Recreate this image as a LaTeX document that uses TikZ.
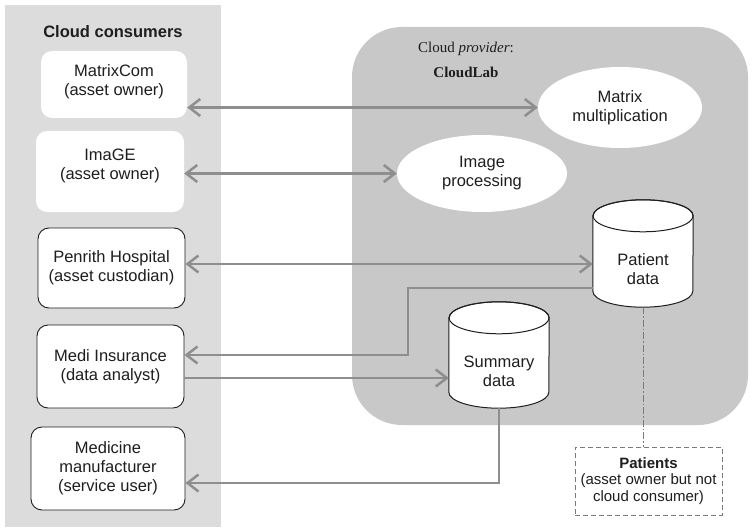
\documentclass[tikz,border=0pt]{standalone}
\usepackage{fontspec}
\setmainfont{Liberation Sans}
\newfontfamily\serifface{Liberation Serif}
\usetikzlibrary{arrows.meta,shapes.geometric}
\definecolor{panel}{HTML}{DCDCDC}
\definecolor{prov}{HTML}{C8C8C8}
\definecolor{connc}{HTML}{8E8E8E}
\definecolor{ink}{HTML}{1E1E1E}
\definecolor{dashc}{HTML}{7A7A7A}
\pgfdeclarelayer{back}
\pgfdeclarelayer{mid}
\pgfsetlayers{back,mid,main}
\newcommand\cylshape[1]{%
  \begin{pgfonlayer}{mid}
    \path[fill=white,draw=ink,line width=1pt]
      ([yshift=16pt]#1.north west) -- ([yshift=16pt]#1.south west)
      arc[start angle=180,end angle=360,x radius=50pt,y radius=16pt]
      -- ([yshift=16pt]#1.north east)
      arc[start angle=0,end angle=180,x radius=50pt,y radius=16pt] -- cycle;
    \draw[draw=ink,line width=1pt] ([yshift=16pt]#1.north) ellipse[x radius=50pt,y radius=16pt];
  \end{pgfonlayer}}
\begin{document}
\begin{tikzpicture}[x=1pt,y=-1pt,
  every node/.style={text=ink, font=\fontsize{16.5}{19}\selectfont, align=center},
  actor/.style={rectangle, rounded corners=11pt, fill=white, inner sep=0pt},
  actorline/.style={actor, draw=ink, line width=0.9pt},
  svc/.style={ellipse, fill=white, inner sep=0pt},
  cylbody/.style={rectangle, inner sep=0pt, minimum width=100pt},
  conn/.style={draw=connc, line width=2.5pt},
  >={Straight Barb[length=11pt,width=17pt]}]
\useasboundingbox (0,0) rectangle (752,532);
\begin{pgfonlayer}{back}
  \fill[panel] (5,5) rectangle (221,527);
  \fill[prov, rounded corners=50pt] (352,27) rectangle (748,425);
\end{pgfonlayer}

\node[font=\bfseries\fontsize{16.5}{19}\selectfont] (cc) at (113,32) {Cloud consumers};
\node[font=\serifface\fontsize{15}{25}\selectfont] (cp) at (466,59.5) {Cloud \textit{provider}:\\\textbf{CloudLab}};

\node[actor, minimum width=146pt, minimum height=67pt,
      label={[yshift=3pt]center:{MatrixCom\\(asset owner)}}] (mc) at (114,84.5) {};
\node[actor, minimum width=148pt, minimum height=81pt,
      label={[yshift=6pt]center:{ImaGE\\(asset owner)}}] (ig) at (110,171.5) {};
\node[actorline, minimum width=147pt, minimum height=80pt] (ph) at (111.5,268) {Penrith Hospital\\(asset custodian)};
\node[actorline, minimum width=147pt, minimum height=83pt] (mi) at (110.5,366.5) {Medi Insurance\\(data analyst)};
\node[actorline, minimum width=154pt, minimum height=83pt] (mf) at (108,468.5) {Medicine\\manufacturer\\(service user)};

\node[svc, minimum width=164pt, minimum height=81pt] (mm) at (620,107.5) {Matrix\\multiplication};
\node[svc, minimum width=170pt, minimum height=77pt] (ip) at (482,173.5) {Image\\processing};

\node[cylbody, minimum height=75pt] (pd) at (643,269.5) {Patient\\data};
\cylshape{pd}
\node[cylbody, minimum height=74pt] (sd) at (499,371) {Summary\\data};
\cylshape{sd}

\node[draw=dashc, line width=1pt, dash pattern=on 5pt off 3pt, fill=white,
      minimum width=147pt, minimum height=68pt, inner sep=0pt,
      font=\fontsize{15}{16.5}\selectfont] (pt) at (648.5,481)
      {\textbf{Patients}\\(asset owner but not\\cloud consumer)};

\coordinate (r1) at (0,264);
\coordinate (b1) at (408,288);
\coordinate (b2) at (408,355);
\coordinate (r2) at (0,378);
\coordinate (b3) at (0,483);

\draw[conn,<->] (mc.east |- mm.west) -- (mm.west);
\draw[conn,<->] (ig.east |- ip.west) -- (ip.west);
\draw[conn,<->] (ph.east |- r1) -- (pd.west |- r1);
\draw[conn,->] (pd.west |- b1) -- (b1) -- (b2) -- (mi.east |- b2);
\draw[conn,->] (mi.east |- r2) -- (sd.west |- r2);
\draw[conn,->] (sd.south) -- (sd.south |- b3) -- (mf.east |- b3);
\draw[draw=dashc, line width=1pt, dash pattern=on 7pt off 2pt on 1.5pt off 2pt] (pd.south) -- (pd.south |- pt.north);
\end{tikzpicture}
\end{document}
